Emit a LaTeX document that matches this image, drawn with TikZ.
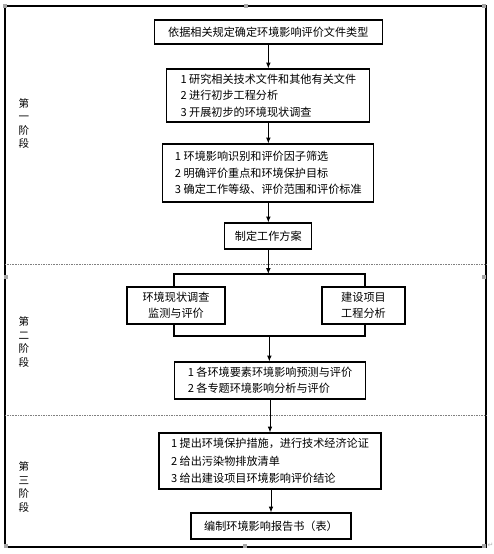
\documentclass[tikz,border=0pt]{standalone}
\usepackage{fontspec}
\setmainfont{Noto Sans CJK SC}
\newfontfamily\arrowfont{DejaVu Sans}
\usetikzlibrary{arrows.meta}

\tikzset{
  flowbox/.style={draw, line width=0.9pt, fill=white, inner sep=2pt,
    font=\fontsize{9.5}{14}\selectfont, align=left},
  stagelabel/.style={font=\fontsize{9}{11.5}\selectfont, align=center, inner sep=0pt},
  handle/.style={fill=gray!70, draw=none, minimum size=3pt, inner sep=0pt}
}

\begin{document}
\begin{tikzpicture}[>={Latex[length=5pt,width=4pt]}]
\useasboundingbox (0,0) rectangle (14.82,16.62);

% frame and stage separators
\draw[line width=0.9pt] (0.15,0.21) rectangle (14.58,16.44);
\draw[color=gray, densely dotted] (0.15,8.70) -- (14.58,8.70);
\draw[color=gray, densely dotted] (0.15,4.17) -- (14.58,4.17);

\foreach \x/\y in {0.15/16.44, 7.38/16.44, 14.52/16.44, 0.18/8.31, 14.52/8.31,
                   0.18/0.24, 7.35/0.24, 14.52/0.24}
    \node[handle] at (\x,\y) {};
\node[font=\arrowfont\fontsize{6}{6}\selectfont, color=gray!60] (ret) at (14.72,0.27) {↵};

\node[stagelabel] (stageA) at (0.72,12.92) {第\\一\\阶\\段};
\node[stagelabel] (stageB) at (0.72,6.36) {第\\二\\阶\\段};
\node[stagelabel] (stageC) at (0.72,2.01) {第\\三\\阶\\段};

% first stage
\node[flowbox, minimum width=6.84cm, minimum height=0.72cm, align=center] (filetype) at (8.05,15.66)
    {依据相关规定确定环境影响评价文件类型};
\node[flowbox, minimum width=6.09cm, minimum height=1.59cm] (research) at (8.05,13.755)
    {1 研究相关技术文件和其他有关文件\\2 进行初步工程分析\\3 开展初步的环境现状调查};
\node[flowbox, minimum width=6.33cm, minimum height=1.74cm] (screening) at (8.05,11.43)
    {1 环境影响识别和评价因子筛选\\2 明确评价重点和环境保护目标\\3 确定工作等级、评价范围和评价标准};
\node[flowbox, minimum width=2.61cm, minimum height=0.78cm, align=center] (plan) at (8.05,9.54)
    {制定工作方案};

% second stage
\draw[line width=0.9pt] (5.22,6.54) rectangle (10.95,8.40);
\coordinate (grouptop) at (8.08,8.40);
\coordinate (groupbot) at (8.08,6.54);
\node[flowbox, minimum width=2.94cm, minimum height=1.11cm, align=center] (survey) at (5.28,7.455)
    {环境现状调查\\监测与评价};
\node[flowbox, minimum width=2.49cm, minimum height=1.11cm, align=center] (project) at (10.905,7.455)
    {建设项目\\工程分析};
\node[flowbox, minimum width=5.73cm, minimum height=1.11cm] (predict) at (8.1,5.205)
    {1 各环境要素环境影响预测与评价\\2 各专题环境影响分析与评价};

% third stage
\node[flowbox, minimum width=6.66cm, minimum height=1.68cm, font=\fontsize{9.5}{14.7}\selectfont] (measures) at (8.1,2.79)
    {1 提出环境保护措施，进行技术经济论证\\2 给出污染物排放清单\\3 给出建设项目环境影响评价结论};
\node[flowbox, minimum width=4.8cm, minimum height=0.78cm, align=center] (report) at (8.13,0.84)
    {编制环境影响报告书（表）};

\draw[->, line width=0.8pt] (filetype) -- (research);
\draw[->, line width=0.8pt] (research) -- (screening);
\draw[->, line width=0.8pt] (screening) -- (plan);
\draw[->, line width=0.8pt] (plan.south) -- (plan.south |- grouptop);
\draw[->, line width=0.8pt] (groupbot) -- (groupbot |- predict.north);
\draw[->, line width=0.8pt] (predict) -- (measures.north -| predict.south);
\draw[->, line width=0.8pt] (measures.south -| report.north) -- (report);

\end{tikzpicture}
\end{document}
